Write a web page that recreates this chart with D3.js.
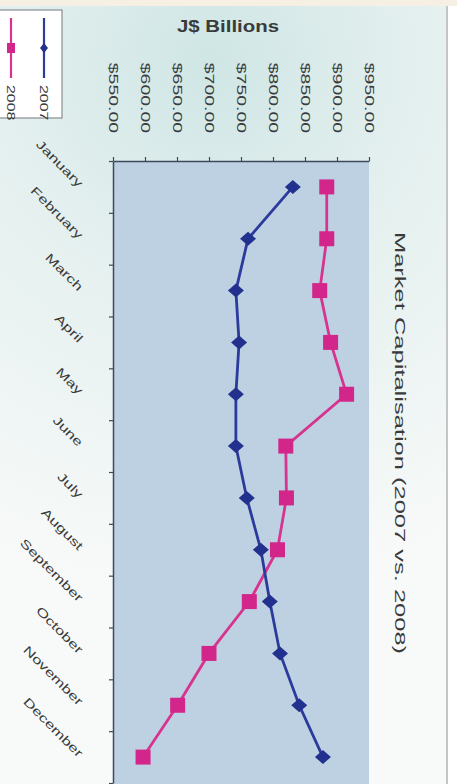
<!DOCTYPE html>
<html>
<head>
<meta charset="utf-8">
<script src="https://cdn.jsdelivr.net/npm/d3@7"></script>
<style>
  html, body { margin: 0; padding: 0; background: #ffffff; }
  svg { display: block; }
  text { font-family: "Liberation Sans", Arial, sans-serif; fill: #3a3a3a; }
</style>
</head>
<body>
<svg id="chart" width="457" height="784"></svg>
<script>
// Monthly market capitalisation, J$ billions
const months = ["January", "February", "March", "April", "May", "June",
                "July", "August", "September", "October", "November", "December"];
const cap2007 = [831, 761, 742, 747, 742, 742, 759, 781, 795, 811, 841, 878];
const cap2008 = [884, 884, 873, 890, 915, 820, 821, 807, 763, 700, 651, 597];
const valueTicks = [550, 600, 650, 700, 750, 800, 850, 900, 950];
const seriesNames = ["2008", "2007"];

const W = 457, H = 784;
const svg = d3.select("#chart");

const COLOR_2007 = "#2b3a9b", MARK_2007 = "#22308e";
const COLOR_2008 = "#d6348f", MARK_2008 = "#d3268a";
const AXIS = "#3c4a5c";

// ---- backdrop -------------------------------------------------------------
const defs = svg.append("defs");
const bg = defs.append("radialGradient").attr("id", "bgGrad")
  .attr("gradientUnits", "userSpaceOnUse")
  .attr("cx", 210).attr("cy", 60).attr("r", 540);
bg.append("stop").attr("offset", "0%").attr("stop-color", "#cfe6e5");
bg.append("stop").attr("offset", "40%").attr("stop-color", "#e4f0ef");
bg.append("stop").attr("offset", "100%").attr("stop-color", "#f8faf9");

svg.append("rect").attr("width", W).attr("height", H).attr("fill", "url(#bgGrad)");
svg.append("rect").attr("x", 0).attr("y", 0).attr("width", W).attr("height", 6).attr("fill", "#f6efe3");
svg.append("rect").attr("x", 447).attr("y", 6).attr("width", 10).attr("height", H).attr("fill", "#ffffff");
svg.append("line").attr("x1", 447).attr("x2", 447).attr("y1", 6).attr("y2", H)
  .attr("stroke", "#c4c6c6").attr("stroke-width", 2);

// ---- scales ---------------------------------------------------------------
const x = d3.scaleLinear().domain([550, 950]).range([113, 369]);
const y = d3.scaleBand().domain(months).range([161, 783]);
const yIdx = d3.scaleLinear().domain([0, months.length]).range([161, 783]);
const yc = m => y(m) + y.bandwidth() / 2;

// plot area
svg.append("rect")
  .attr("x", x(550)).attr("y", yIdx(0))
  .attr("width", x(950) - x(550)).attr("height", H - yIdx(0) + 2)
  .attr("fill", "#bed1e2");

// ---- value axis (top) -----------------------------------------------------
const topAxis = svg.append("g")
  .attr("transform", `translate(0,${yIdx(0)})`)
  .call(d3.axisTop(x).tickValues(valueTicks).tickSize(4).tickSizeOuter(0)
          .tickFormat(d3.format("$.2f")));
topAxis.select(".domain").attr("stroke", AXIS).attr("stroke-width", 1.5);
topAxis.selectAll(".tick line").attr("stroke", AXIS).attr("stroke-width", 1.2);
topAxis.selectAll(".tick text")
  .attr("x", null).attr("y", null).attr("dy", "0.35em")
  .attr("text-anchor", "end")
  .attr("font-size", 12).attr("fill", "#404040")
  .attr("transform", `translate(0,${133 - yIdx(0)}) rotate(90) scale(1.62,1)`);

// ---- category axis (left) -------------------------------------------------
const leftAxis = svg.append("g")
  .attr("transform", `translate(${x(550)},0)`)
  .call(d3.axisLeft(yIdx).tickValues(d3.range(0, months.length + 1))
          .tickSize(4).tickSizeOuter(0).tickFormat(""));
leftAxis.select(".domain").attr("stroke", AXIS).attr("stroke-width", 1.5);
leftAxis.selectAll(".tick line").attr("stroke", AXIS).attr("stroke-width", 1.2);

svg.append("g").selectAll("text").data(months).join("text")
  .attr("text-anchor", "end")
  .attr("font-size", 12).attr("fill", "#353535")
  .attr("transform", d => `translate(78,${yc(d) + 1}) rotate(45) scale(1.42,1)`)
  .text(d => d);

// ---- series ---------------------------------------------------------------
const line = d3.line().x(d => x(d.v)).y(d => yc(d.m));
const rows07 = months.map((m, i) => ({ m, v: cap2007[i] }));
const rows08 = months.map((m, i) => ({ m, v: cap2008[i] }));

svg.append("path").datum(rows08).attr("d", line)
  .attr("fill", "none").attr("stroke", COLOR_2008).attr("stroke-width", 2.8);
svg.append("path").datum(rows07).attr("d", line)
  .attr("fill", "none").attr("stroke", COLOR_2007).attr("stroke-width", 2.8);

svg.append("g").selectAll("rect").data(rows08).join("rect")
  .attr("x", d => x(d.v) - 7.5).attr("y", d => yc(d.m) - 7.5)
  .attr("width", 15).attr("height", 15)
  .attr("fill", MARK_2008);

const diamond = "M0,-7L8,0L0,7L-8,0Z";
svg.append("g").selectAll("path").data(rows07).join("path")
  .attr("transform", d => `translate(${x(d.v)},${yc(d.m)})`)
  .attr("d", diamond).attr("fill", MARK_2007);

// ---- titles ---------------------------------------------------------------
svg.append("text")
  .attr("text-anchor", "middle")
  .attr("font-weight", "bold").attr("font-size", 17).attr("fill", "#2e2e2e")
  .attr("transform", "translate(228,32) scale(1.2,1)")
  .text("J$ Billions");

svg.append("text")
  .attr("text-anchor", "middle")
  .attr("font-size", 15).attr("fill", "#262626")
  .attr("transform", "translate(395,443) rotate(90) scale(1.7,1)")
  .text("Market Capitalisation (2007 vs. 2008)");

// ---- legend ---------------------------------------------------------------
const legend = svg.append("g");
legend.append("rect")
  .attr("x", -2).attr("y", 10).attr("width", 64).attr("height", 108)
  .attr("fill", "#ffffff").attr("stroke", "#8a8d90").attr("stroke-width", 1.2);

const legendCols = [
  { name: seriesNames[0], cx: 11, color: COLOR_2008, mark: MARK_2008, square: true },
  { name: seriesNames[1], cx: 44, color: COLOR_2007, mark: MARK_2007, square: false }
];
legendCols.forEach(s => {
  legend.append("line")
    .attr("x1", s.cx).attr("x2", s.cx).attr("y1", 18).attr("y2", 78)
    .attr("stroke", s.color).attr("stroke-width", 2.2);
  if (s.square) {
    legend.append("rect").attr("x", s.cx - 4).attr("y", 43)
      .attr("width", 8).attr("height", 10).attr("fill", s.mark);
  } else {
    legend.append("path").attr("transform", `translate(${s.cx},48)`)
      .attr("d", "M0,-5L4,0L0,5L-4,0Z").attr("fill", s.mark);
  }
  legend.append("text")
    .attr("dy", "0.35em").attr("font-size", 11).attr("fill", "#333")
    .attr("transform", `translate(${s.cx},85) rotate(90) scale(1.45,1)`)
    .text(s.name);
});
</script>
</body>
</html>
